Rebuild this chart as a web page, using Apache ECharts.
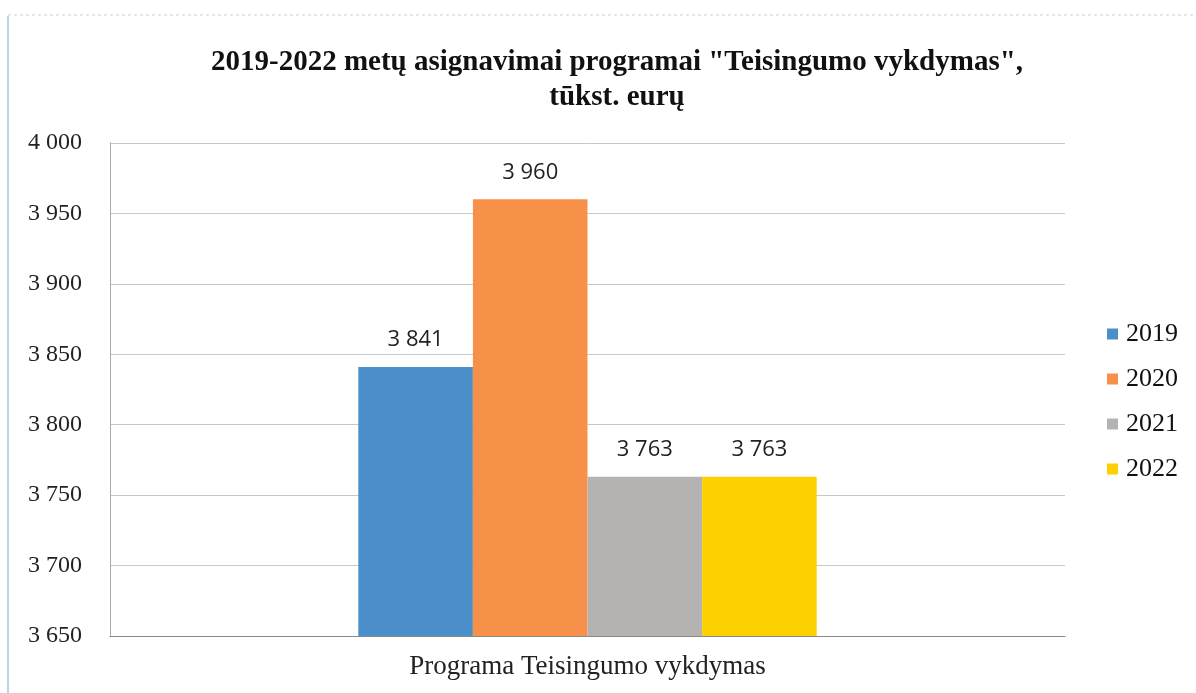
<!DOCTYPE html>
<html><head><meta charset="utf-8">
<script src="https://cdn.jsdelivr.net/npm/echarts@6/dist/echarts.min.js"></script>
<style>html,body{margin:0;padding:0;background:#fff}#c{width:1196px;height:693px}</style>
</head><body><div id="c"></div>
<script>
const categories = ["Programa Teisingumo vykdymas"];
const seriesNames = ["2019", "2020", "2021", "2022"];
const values2019 = [3841];
const values2020 = [3960];
const values2021 = [3763];
const values2022 = [3763];
const colors = ["#4a8fc9", "#f7914a", "#b5b3b1", "#fdd000"];
const allValues = [values2019, values2020, values2021, values2022];

const fmt = v => { const s = String(Math.round(v)); return s.replace(/\B(?=(\d{3})+(?!\d))/g, " "); };

const chart = echarts.init(document.getElementById('c'));
chart.setOption({
  animation: false,
  title: {
    text: '2019-2022 metų asignavimai programai "Teisingumo vykdymas",\ntūkst. eurų',
    left: 612, top: 40, textAlign: 'center',
    textStyle: { fontFamily: 'Liberation Serif', fontWeight: 'bold', fontSize: 29, color: '#111', lineHeight: 35 }
  },
  legend: {
    orient: 'vertical', left: 1102, top: 316, itemGap: 19,
    itemWidth: 11, itemHeight: 11, icon: 'rect',
    textStyle: { fontFamily: 'Liberation Serif', fontSize: 26, color: '#111', padding: [0, 0, 0, 3] },
    data: seriesNames
  },
  grid: { left: 110, right: 131, top: 143, bottom: 57 },
  xAxis: {
    type: 'category', data: categories,
    axisLine: { lineStyle: { color: '#888', width: 1 } },
    axisTick: { show: false },
    axisLabel: { fontFamily: 'Liberation Serif', fontSize: 27, color: '#222', margin: 17 }
  },
  yAxis: {
    type: 'value', min: 3650, max: 4000, interval: 50,
    axisLine: { show: true, lineStyle: { color: '#aaa' } },
    axisLabel: { fontFamily: 'Liberation Serif', fontSize: 24, color: '#222', margin: 28, formatter: fmt },
    splitLine: { lineStyle: { color: '#c8c8c8', width: 1 } }
  },
  graphic: [
    { type: 'line', shape: { x1: 8, y1: 16, x2: 8, y2: 693 }, style: { stroke: '#9cc8e0', lineWidth: 1.5 } },
    { type: 'line', shape: { x1: 8, y1: 15, x2: 1196, y2: 15 }, style: { stroke: '#c9d3dc', lineWidth: 1, lineDash: [3, 3] } }
  ],
  series: seriesNames.map((n, i) => ({
    name: n, type: 'bar', data: allValues[i],
    barGap: '0%', barCategoryGap: '52%',
    itemStyle: { color: colors[i] },
    label: { show: true, position: 'top', distance: 16, formatter: p => fmt(p.value),
      fontFamily: 'Open Sans', fontSize: 22, color: '#222' }
  }))
});
</script></body></html>
